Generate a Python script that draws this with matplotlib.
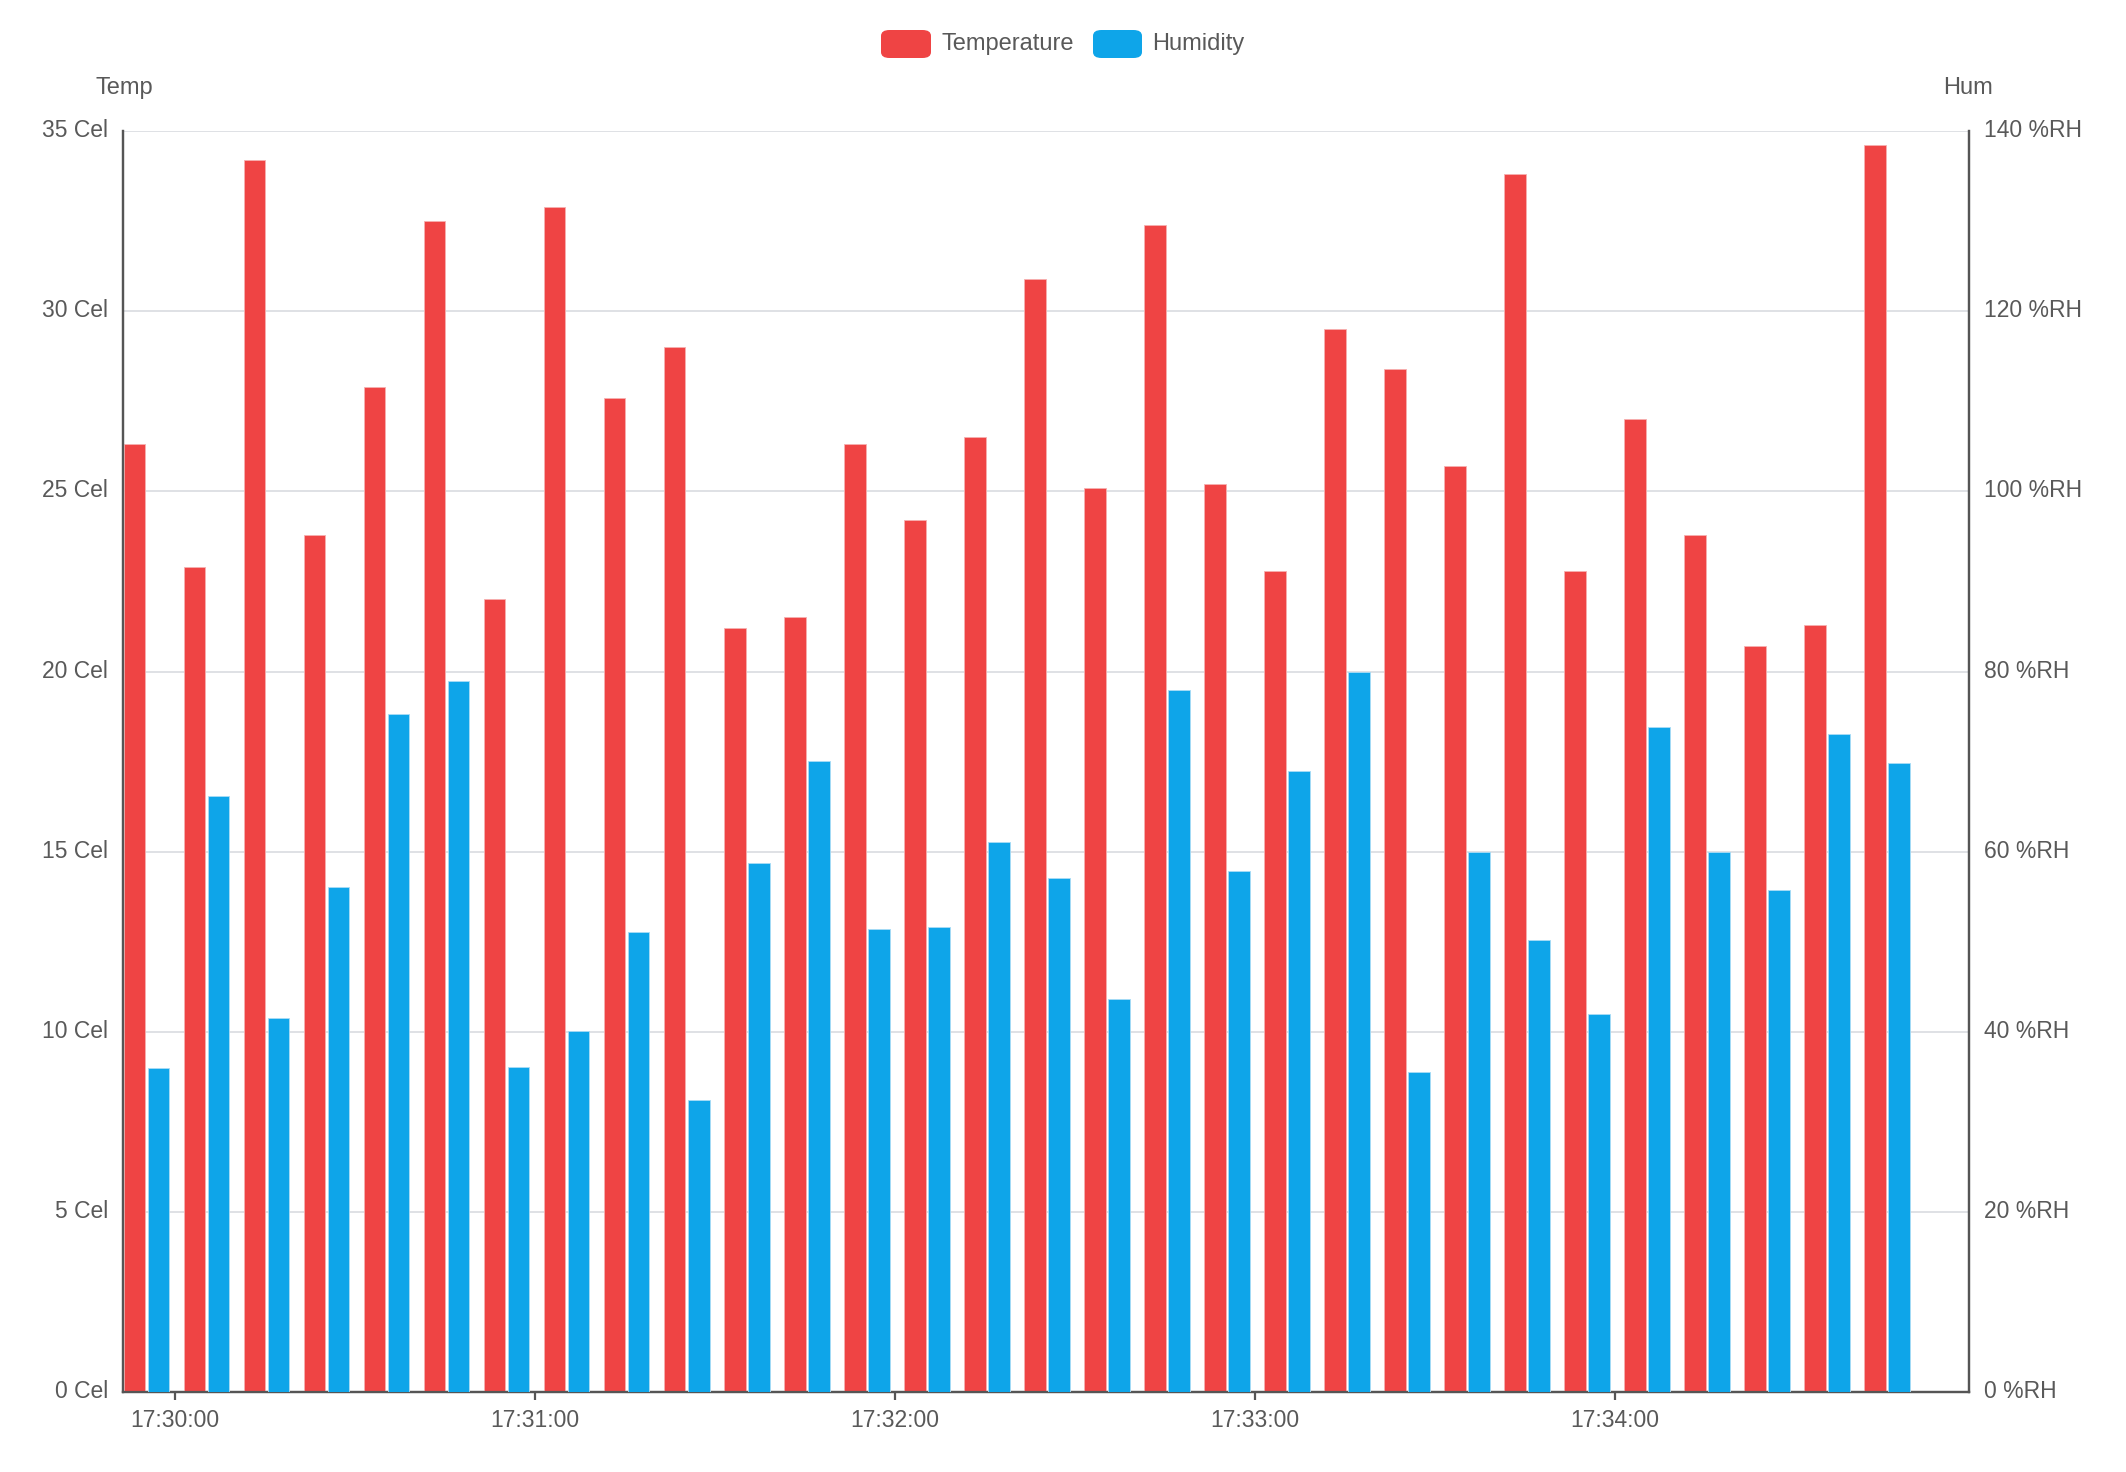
import matplotlib
matplotlib.use("Agg")
import matplotlib.pyplot as plt
import matplotlib.transforms as mtransforms
from matplotlib.patches import FancyBboxPatch

plt.rcParams['font.family'] = ['Liberation Sans', 'DejaVu Sans']

# ---- data ----
times = ["17:29:55.3", "17:30:05.3", "17:30:15.3", "17:30:25.3", "17:30:35.3",
         "17:30:45.3", "17:30:55.3", "17:31:05.3", "17:31:15.3", "17:31:25.3",
         "17:31:35.3", "17:31:45.3", "17:31:55.3", "17:32:05.3", "17:32:15.3",
         "17:32:25.3", "17:32:35.3", "17:32:45.3", "17:32:55.3", "17:33:05.3",
         "17:33:15.3", "17:33:25.3", "17:33:35.3", "17:33:45.3", "17:33:55.3",
         "17:34:05.3", "17:34:15.3", "17:34:25.3", "17:34:35.3", "17:34:45.3"]
temperature = [26.3, 22.9, 34.2, 23.8, 27.9, 32.5, 22.0, 32.9, 27.6, 29.0,
               21.2, 21.5, 26.3, 24.2, 26.5, 30.9, 25.1, 32.4, 25.2, 22.8,
               29.5, 28.4, 25.7, 33.8, 22.8, 27.0, 23.8, 20.7, 21.3, 34.6]
humidity = [36.0, 66.2, 41.6, 56.1, 75.3, 78.9, 36.1, 40.1, 51.1, 32.4,
            58.8, 70.1, 51.4, 51.6, 61.1, 57.1, 43.6, 78.0, 57.9, 69.0,
            80.0, 35.5, 60.0, 50.2, 42.0, 73.8, 60.0, 55.8, 73.1, 69.9]
x_tick_labels = ["17:30:00", "17:31:00", "17:32:00", "17:33:00", "17:34:00"]
temp_ticks = [0, 5, 10, 15, 20, 25, 30, 35]
hum_ticks = [0, 20, 40, 60, 80, 100, 120, 140]
series_names = ["Temperature", "Humidity"]

RED = "#EF4444"
BLUE = "#0EA5E9"
TXT = "#595959"
AXC = "#555555"
GRID = "#dcdee3"


def to_sec(s):
    h, m, sec = s.split(":")
    return (int(h) * 3600 + int(m) * 60 + float(sec)) - (17 * 3600 + 30 * 60)


xs = [to_sec(t) for t in times]
tick_pos = [to_sec(t) for t in x_tick_labels]

fig = plt.figure(figsize=(21.26, 14.72), dpi=100)
ax = fig.add_axes([0.058, 0.0541, 0.868, 0.857])
ax2 = ax.twinx()

bw = 3.6
ax.bar([v - 2.0 for v in xs], temperature, width=bw, color=RED,
       edgecolor="#f7b0b0", linewidth=0.6, zorder=3)
ax2.bar([v + 2.0 for v in xs], humidity, width=bw, color=BLUE,
        edgecolor="#a9dcf6", linewidth=0.6, zorder=3)

ax.set_xlim(-8.57, 298.9)
ax.set_ylim(0, 35)
ax2.set_ylim(0, 140)

ax.set_yticks(temp_ticks)
ax.set_yticklabels([f"{t} Cel" for t in temp_ticks])
ax2.set_yticks(hum_ticks)
ax2.set_yticklabels([f"{t} %RH" for t in hum_ticks])
ax.set_xticks(tick_pos)
ax.set_xticklabels(x_tick_labels)

ax.set_axisbelow(True)
ax.grid(axis="y", color=GRID, linewidth=1.3, zorder=0)
ax.grid(axis="x", visible=False)

for a in (ax, ax2):
    a.spines["top"].set_visible(False)
    for sp in ("left", "right", "bottom"):
        a.spines[sp].set_color(AXC)
        a.spines[sp].set_linewidth(1.6)

ax.tick_params(axis="y", length=0, pad=11, labelsize=16.5, labelcolor=TXT)
ax2.tick_params(axis="y", length=0, pad=11, labelsize=16.5, labelcolor=TXT)
ax.tick_params(axis="x", length=6, width=1.6, color=AXC, pad=6,
               labelsize=16.5, labelcolor=TXT)

# nudge y tick labels slightly upward
off = mtransforms.ScaledTranslation(0, 3 / 100, fig.dpi_scale_trans)
for lab in ax.get_yticklabels() + ax2.get_yticklabels():
    lab.set_transform(lab.get_transform() + off)

# axis titles
fig.text(124 / 2126, 1 - 88 / 1472, "Temp", ha="center", va="center",
         fontsize=17, color=TXT)
fig.text(1968 / 2126, 1 - 88 / 1472, "Hum", ha="center", va="center",
         fontsize=17, color=TXT)

# legend
W, H = 2126, 1472
ly = 44
for (bx0, bx1, tx, name, col) in [(881, 931, 942, series_names[0], RED),
                                  (1093, 1142, 1152, series_names[1], BLUE)]:
    p = FancyBboxPatch((bx0 / W, 1 - (ly + 14) / H), (bx1 - bx0) / W, 28 / H,
                       boxstyle="round,pad=0,rounding_size=0.004",
                       transform=fig.transFigure, facecolor=col,
                       edgecolor="none")
    fig.patches.append(p)
    fig.text(tx / W, 1 - ly / H, name, ha="left", va="center",
             fontsize=17, color=TXT)

fig.savefig("out.png", dpi=100, facecolor="white")
